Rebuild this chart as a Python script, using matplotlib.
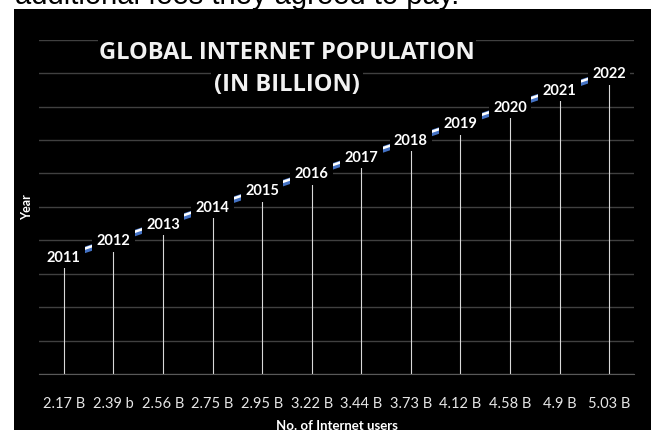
import matplotlib
matplotlib.use("Agg")
import matplotlib.pyplot as plt
from matplotlib.patches import Rectangle
from matplotlib.transforms import offset_copy

years = [2011, 2012, 2013, 2014, 2015, 2016, 2017, 2018, 2019, 2020, 2021, 2022]
users = ['2.17 B', '2.39 b', '2.56 B', '2.75 B', '2.95 B', '3.22 B',
         '3.44 B', '3.73 B', '4.12 B', '4.58 B', '4.9 B', '5.03 B']

W, H = 651.0, 431.0
fig = plt.figure(figsize=(6.51, 4.31), dpi=100)
fig.patch.set_facecolor("white")

# clipped text of the page above the chart
fig.text(15 / W, 1 - 4 / H, "additional fees they agreed to pay.", fontsize=21,
         family="Liberation Sans", color="black", va="baseline", ha="left")

# black chart background
fig.patches.append(Rectangle((13.5 / W, 0), 1, (H - 10) / H, transform=fig.transFigure,
                             facecolor="black", edgecolor="none", zorder=-5))

ax = fig.add_axes([39 / W, (H - 375) / H, 595 / W, (375 - 40.7) / H])
ax.set_zorder(1)
ax.set_facecolor("black")
x = list(range(len(years)))
ax.set_xlim(-0.5, len(years) - 0.5)
ax.set_ylim(2004, 2024)
ax.set_yticks(range(2004, 2025, 2))
ax.yaxis.grid(True, color="#404040", linewidth=1.0)
ax.set_axisbelow(True)
for s in ["top", "right", "left"]:
    ax.spines[s].set_visible(False)
ax.spines["bottom"].set_color("#595959")
ax.tick_params(axis="y", length=0, labelleft=False)
ax.tick_params(axis="x", length=0, pad=16, colors="#e6e6e6")
ax.set_xticks(x)
ax.set_xticklabels(users, family="Lato", fontsize=10.5, color="#e6e6e6")

# drop lines
ax.vlines(x, 2004, years, color="#d9d9d9", linewidth=0.8, zorder=2)

# line (blue with white highlight)
ax.plot(x, years, color="#4472c4", linewidth=4.5, zorder=3, solid_capstyle="butt")
hl = offset_copy(ax.transData, fig=fig, x=0, y=1.3, units="dots")
ax.plot(x, years, color="white", linewidth=1.8, zorder=3, transform=hl, solid_capstyle="butt")

# data labels
for xi, yi in zip(x, years):
    ax.text(xi, yi, str(yi), ha="center", va="center", family="Lato", fontweight="bold",
            fontsize=10.5, color="white", zorder=5,
            bbox=dict(boxstyle="square,pad=0.3", facecolor="black", edgecolor="none"))

ax.set_xlabel("No. of Internet users", family="Lato", fontweight="bold", fontsize=9.5,
              color="white", labelpad=6)
fig.text(27 / W, 1 - 207 / H, "Year", rotation=90, ha="center", va="center",
         family="Lato", fontweight="bold", fontsize=9, color="white", zorder=2)

fig.text(287 / W, 1 - 53 / H, "GLOBAL INTERNET POPULATION", ha="center", va="center",
         family="Open Sans", fontweight="bold", fontsize=17, color="#f2f2f2", zorder=3,
         bbox=dict(boxstyle="square,pad=0.05", facecolor="black", edgecolor="none"))
fig.text(287 / W, 1 - 85 / H, "(IN BILLION)", ha="center", va="center",
         family="Open Sans", fontweight="bold", fontsize=17, color="#f2f2f2", zorder=3,
         bbox=dict(boxstyle="square,pad=0.15", facecolor="black", edgecolor="none"))

fig.savefig("out.png", dpi=100, facecolor=fig.get_facecolor())
